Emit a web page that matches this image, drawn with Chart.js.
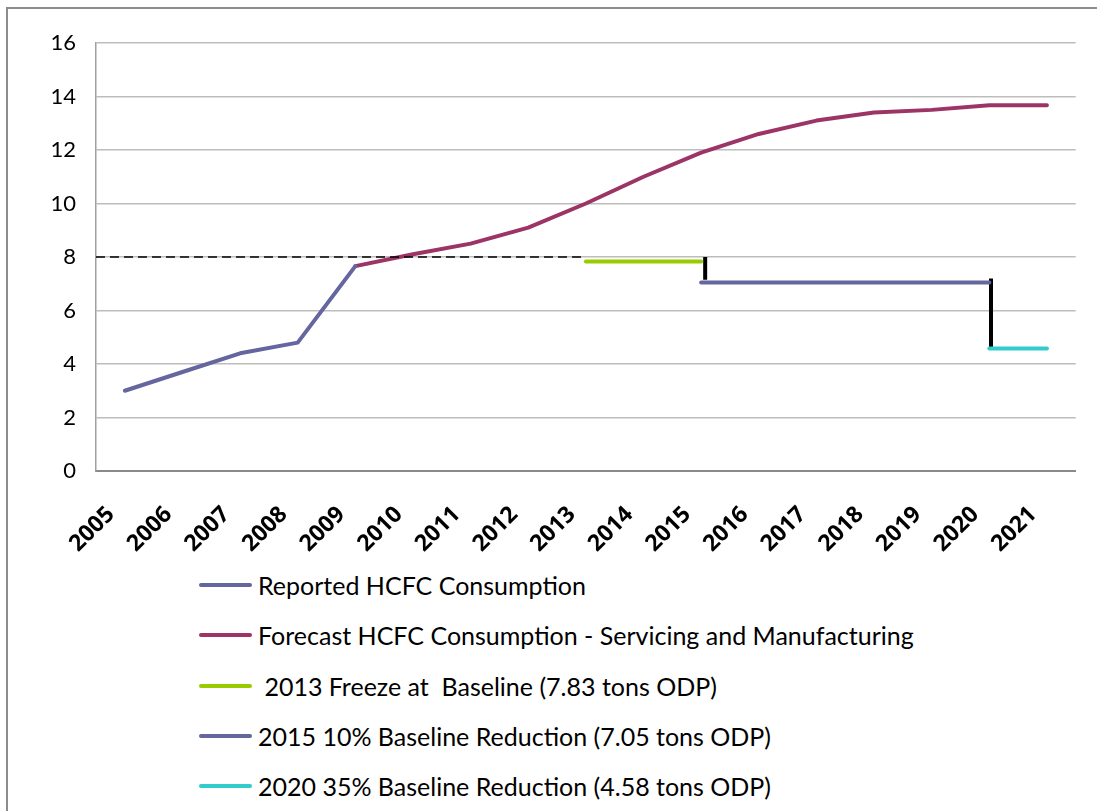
<!DOCTYPE html>
<html>
<head>
<meta charset="utf-8">
<script src="https://cdn.jsdelivr.net/npm/chart.js@4"></script>
<style>
  body { margin: 0; background: #fff; font-family: Lato, sans-serif; }
  #frame { position: absolute; left: 6px; top: 7px; width: 1200px; height: 900px;
           border-top: 2px solid #8c8c8c; border-left: 2px solid #8c8c8c; }
  #wrap { position: absolute; left: 0; top: 0; width: 1097px; height: 560px; }
  #legend { position: absolute; left: 199px; top: 560px; }
  .item { height: 50.3px; display: flex; align-items: center; font-size: 25px; color: #000; white-space: pre; }
  .item span.swatch { display: inline-block; width: 53px; height: 4px; border-radius: 2px; margin-right: 6px; }
</style>
</head>
<body>
<div id="frame"></div>
<div id="wrap"><canvas id="chart" width="1097" height="560"></canvas></div>
<div id="legend"></div>
<script>
const years = [2005, 2006, 2007, 2008, 2009, 2010, 2011, 2012, 2013, 2014, 2015, 2016, 2017, 2018, 2019, 2020, 2021];
const reported = [3.0, 3.7, 4.4, 4.8, 7.66];
const forecastYears = [2009, 2010, 2011, 2012, 2013, 2014, 2015, 2016, 2017, 2018, 2019, 2020, 2021];
const forecast = [7.66, 8.1, 8.5, 9.1, 10.0, 11.0, 11.9, 12.6, 13.1, 13.4, 13.5, 13.67, 13.67];
const baseline = 8;
const freeze2013 = 7.83;
const cut2015 = 7.05;
const cut2020 = 4.58;
const yTicks = [0, 2, 4, 6, 8, 10, 12, 14, 16];

const purple = '#6565a0';
const maroon = '#9c3466';
const green = '#99cc00';
const cyan = '#33cccc';

function pts(xs, ys) {
  return xs.map((x, i) => ({ x: x, y: ys[i] }));
}

const mainLine = { borderWidth: 4, pointRadius: 0, borderCapStyle: 'round', borderJoinStyle: 'round', tension: 0, fill: false };

const ctx = document.getElementById('chart').getContext('2d');
const chart = new Chart(ctx, {
  type: 'line',
  data: {
    datasets: [
      { label: 'baseline', data: [{ x: 2004.5, y: baseline }, { x: 2013, y: baseline }],
        borderColor: '#000', borderWidth: 1.5, borderDash: [9, 5], pointRadius: 0, legend: false },
      Object.assign({ label: 'Reported HCFC Consumption', data: pts(years.slice(0, reported.length), reported), borderColor: purple }, mainLine),
      Object.assign({ label: 'Forecast HCFC Consumption - Servicing and Manufacturing', data: pts(forecastYears, forecast), borderColor: maroon }, mainLine),
      Object.assign({ label: ' 2013 Freeze at  Baseline (7.83 tons ODP)', data: pts([2013, 2015], [freeze2013, freeze2013]), borderColor: green }, mainLine),
      Object.assign({ label: '2015 10% Baseline Reduction (7.05 tons ODP)', data: pts([2015, 2020], [cut2015, cut2015]), borderColor: purple }, mainLine),
      Object.assign({ label: '2020 35% Baseline Reduction (4.58 tons ODP)', data: pts([2020, 2021], [cut2020, cut2020]), borderColor: cyan }, mainLine),
      { label: 'step 2015', data: [{ x: 2015.07, y: baseline }, { x: 2015.07, y: 7.15 }],
        borderColor: '#000', borderWidth: 4, pointRadius: 0, legend: false },
      { label: 'step 2020', data: [{ x: 2020.03, y: 7.2 }, { x: 2020.03, y: cut2020 }],
        borderColor: '#000', borderWidth: 4, pointRadius: 0, legend: false }
    ]
  },
  options: {
    responsive: false,
    animation: false,
    layout: { padding: { left: 0, top: 43, right: 19, bottom: 0 } },
    plugins: { legend: { display: false }, tooltip: { enabled: false } },
    scales: {
      x: {
        type: 'linear', min: 2004.5, max: 2021.5,
        afterBuildTicks: (scale) => { scale.ticks = years.map(v => ({ value: v })); },
        afterFit: (scale) => { scale.height = 89; },
        grid: { display: false, drawTicks: false },
        border: { display: true, color: '#8a8a8a', width: 2 },
        ticks: { minRotation: 45, maxRotation: 45, autoSkip: false, padding: 30, labelOffset: -14,
                 color: '#000', font: { family: '"Open Sans"', size: 23, weight: 'bold' },
                 callback: (v) => String(v) }
      },
      y: {
        min: 0, max: 16,
        afterBuildTicks: (scale) => { scale.ticks = yTicks.map(v => ({ value: v })); },
        afterFit: (scale) => { scale.width = 96; },
        grid: { color: '#bdbdbd', lineWidth: 1.5, drawTicks: false },
        border: { display: true, color: '#a0a0a0', width: 1.5 },
        ticks: { padding: 20, color: '#000', font: { family: 'Lato', size: 22 } }
      }
    }
  }
});

// legend rows built from the datasets that carry a legend entry
const legend = document.getElementById('legend');
chart.data.datasets.filter(d => d.legend !== false).forEach(d => {
  const row = document.createElement('div');
  row.className = 'item';
  const sw = document.createElement('span');
  sw.className = 'swatch';
  sw.style.background = d.borderColor;
  row.appendChild(sw);
  row.appendChild(document.createTextNode(d.label));
  legend.appendChild(row);
});
</script>
</body>
</html>
